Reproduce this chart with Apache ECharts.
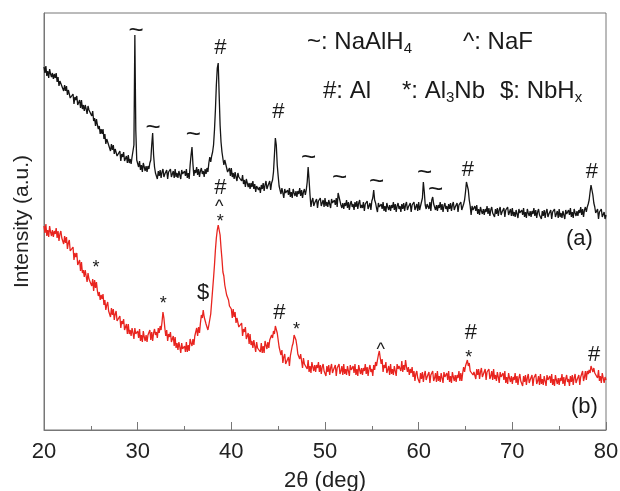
<!DOCTYPE html>
<html>
<head>
<meta charset="utf-8">
<script src="https://cdn.jsdelivr.net/npm/echarts@6.0.0/dist/echarts.min.js"></script>
<style>
html, body { margin: 0; padding: 0; background: #fff; }
#chart { width: 620px; height: 491px; }
</style>
</head>
<body>
<div id="chart"></div>
<script>
// 2theta sampling of the traces: 20.0, 20.1, ... 80.0
const thetaStart = 20
const thetaStep = 0.1

// (a) intensity, arbitrary units, one row per degree
const traceA = [
  363, 357, 364, 354, 359, 352, 361, 356, 353, 357,
  351, 356, 352, 357, 348, 353, 344, 349, 351, 344,
  346, 339, 345, 339, 344, 335, 340, 342, 332, 334,
  331, 336, 326, 333, 330, 334, 325, 326, 330, 322,
  330, 321, 325, 319, 325, 321, 316, 324, 320, 321,
  321, 314, 319, 309, 312, 304, 311, 305, 301, 304,
  296, 301, 296, 301, 291, 296, 286, 291, 292, 285,
  286, 279, 286, 280, 285, 276, 281, 283, 274, 276,
  273, 279, 269, 276, 273, 278, 269, 271, 274, 267,
  275, 267, 271, 266, 273, 272, 285, 395, 300, 270,
  268, 263, 269, 260, 265, 258, 267, 263, 259, 264,
  258, 264, 261, 267, 270, 285, 297, 275, 263, 257,
  257, 251, 259, 254, 260, 252, 258, 261, 253, 256,
  254, 260, 251, 258, 256, 261, 253, 255, 259, 252,
  261, 253, 257, 252, 259, 255, 251, 260, 256, 258,
  259, 254, 261, 252, 257, 251, 265, 275, 283, 266,
  254, 260, 257, 263, 255, 261, 253, 259, 262, 256,
  259, 253, 261, 256, 262, 258, 267, 273, 268, 274,
  278, 285, 300, 320, 345, 362, 367, 335, 305, 288,
  278, 278, 265, 270, 266, 267, 258, 259, 262, 254,
  262, 253, 257, 251, 258, 253, 249, 257, 253, 254,
  255, 249, 255, 246, 250, 243, 251, 247, 243, 247,
  241, 247, 243, 249, 241, 246, 238, 244, 246, 240,
  243, 237, 245, 241, 247, 239, 245, 249, 241, 244,
  243, 249, 240, 247, 250, 258, 275, 292, 285, 265,
  254, 244, 245, 236, 242, 237, 232, 241, 237, 239,
  240, 235, 242, 233, 238, 232, 241, 237, 234, 239,
  233, 239, 236, 242, 234, 240, 232, 238, 241, 235,
  240, 248, 263, 250, 235, 223, 229, 232, 224, 227,
  225, 231, 222, 229, 227, 232, 224, 226, 230, 223,
  232, 224, 228, 223, 230, 226, 222, 231, 227, 229,
  230, 225, 232, 223, 237, 235, 229, 225, 222, 227,
  221, 227, 224, 230, 222, 228, 220, 226, 229, 223,
  226, 220, 228, 223, 229, 221, 227, 230, 222, 225,
  222, 228, 219, 226, 224, 229, 221, 223, 227, 220,
  229, 232, 240, 230, 227, 222, 218, 227, 223, 225,
  226, 221, 228, 219, 224, 218, 227, 223, 220, 225,
  219, 225, 222, 228, 220, 226, 218, 224, 227, 221,
  224, 218, 226, 221, 227, 219, 225, 228, 220, 223,
  221, 227, 218, 225, 223, 228, 220, 222, 226, 219,
  228, 220, 224, 226, 232, 248, 238, 225, 221, 226,
  226, 221, 228, 219, 230, 233, 226, 223, 220, 225,
  219, 225, 222, 228, 220, 226, 218, 224, 227, 221,
  224, 218, 226, 221, 227, 219, 225, 228, 220, 223,
  221, 227, 218, 225, 223, 228, 220, 222, 226, 230,
  238, 248, 250, 240, 230, 224, 215, 224, 220, 222,
  224, 219, 225, 216, 221, 215, 223, 219, 216, 221,
  215, 221, 218, 224, 216, 222, 214, 220, 223, 217,
  219, 213, 221, 216, 222, 214, 220, 223, 215, 218,
  216, 222, 213, 220, 218, 223, 215, 217, 221, 214,
  222, 214, 218, 213, 220, 216, 212, 221, 217, 219,
  220, 215, 222, 213, 218, 212, 221, 217, 214, 219,
  213, 219, 216, 222, 214, 220, 212, 218, 221, 215,
  217, 211, 219, 214, 220, 212, 218, 221, 213, 216,
  214, 220, 211, 218, 216, 221, 213, 215, 219, 212,
  221, 213, 217, 212, 219, 215, 211, 220, 216, 218,
  220, 215, 222, 213, 218, 212, 221, 217, 214, 219,
  214, 220, 217, 223, 215, 221, 213, 220, 223, 218,
  223, 226, 230, 238, 245, 243, 235, 227, 223, 217,
  215, 221, 211, 218, 216, 221, 213, 214, 218, 211,
  215
]

// (b) intensity, arbitrary units, one row per degree
const traceB = [
  204, 197, 206, 194, 200, 193, 204, 198, 194, 200,
  193, 199, 196, 202, 192, 199, 189, 196, 199, 192,
  194, 186, 194, 187, 193, 181, 187, 190, 179, 181,
  178, 183, 170, 177, 173, 177, 165, 166, 170, 159,
  168, 157, 160, 153, 160, 154, 148, 157, 151, 151,
  152, 144, 151, 139, 150, 142, 148, 139, 134, 138,
  130, 135, 131, 136, 125, 130, 120, 125, 128, 119,
  121, 113, 122, 115, 121, 110, 116, 119, 109, 111,
  108, 114, 102, 109, 106, 111, 100, 102, 106, 96,
  106, 96, 100, 94, 102, 97, 91, 102, 96, 98,
  99, 92, 101, 89, 95, 88, 99, 93, 89, 95,
  88, 95, 93, 100, 90, 98, 89, 97, 101, 95,
  98, 92, 102, 97, 104, 100, 108, 118, 112, 102,
  94, 100, 89, 96, 93, 98, 88, 90, 94, 84,
  93, 82, 87, 80, 88, 83, 77, 87, 81, 83,
  84, 78, 88, 78, 85, 79, 91, 87, 84, 91,
  85, 94, 93, 102, 94, 103, 97, 107, 115, 112,
  120, 113, 114, 106, 107, 100, 105, 107, 116, 128,
  140, 152, 165, 180, 192, 200, 205, 204, 195, 182,
  171, 158, 154, 145, 145, 135, 137, 130, 124, 124,
  121, 112, 121, 113, 118, 107, 112, 114, 103, 105,
  101, 107, 94, 101, 98, 103, 91, 93, 97, 86,
  96, 85, 89, 82, 90, 84, 78, 88, 82, 83,
  84, 78, 87, 77, 84, 77, 89, 85, 81, 88,
  82, 90, 89, 95, 92, 99, 96, 104, 103, 97,
  90, 83, 81, 75, 80, 67, 73, 76, 66, 68,
  65, 73, 64, 74, 76, 84, 87, 95, 97, 90,
  84, 76, 78, 71, 76, 69, 62, 72, 66, 67,
  68, 61, 70, 58, 64, 57, 68, 63, 59, 65,
  58, 65, 62, 68, 58, 65, 56, 63, 66, 59,
  61, 54, 64, 58, 65, 55, 62, 66, 57, 60,
  58, 65, 54, 62, 60, 66, 56, 59, 64, 55,
  66, 56, 61, 55, 64, 59, 54, 65, 60, 62,
  64, 57, 66, 55, 61, 54, 65, 60, 56, 62,
  55, 62, 59, 66, 56, 63, 54, 61, 65, 58,
  61, 54, 65, 60, 68, 64, 70, 75, 79, 72,
  66, 71, 58, 65, 62, 68, 57, 60, 64, 55,
  66, 56, 61, 55, 64, 59, 54, 66, 61, 64,
  66, 59, 69, 58, 65, 60, 70, 63, 58, 63,
  55, 61, 57, 63, 53, 59, 49, 56, 59, 52,
  54, 47, 57, 51, 58, 48, 55, 59, 50, 53,
  51, 58, 47, 55, 53, 59, 49, 52, 57, 48,
  59, 49, 54, 48, 57, 52, 47, 58, 53, 55,
  57, 50, 59, 48, 54, 47, 58, 53, 49, 55,
  48, 55, 52, 59, 49, 57, 49, 57, 63, 58,
  64, 65, 70, 64, 67, 59, 61, 61, 55, 58,
  58, 51, 61, 55, 61, 51, 58, 62, 53, 55,
  54, 61, 50, 58, 56, 61, 51, 54, 59, 50,
  61, 51, 55, 49, 58, 53, 47, 58, 53, 55,
  57, 50, 59, 47, 53, 46, 57, 52, 48, 54,
  46, 53, 50, 57, 47, 54, 45, 52, 56, 49,
  51, 44, 54, 48, 55, 45, 52, 56, 47, 50,
  48, 55, 44, 52, 50, 56, 46, 49, 54, 45,
  56, 46, 51, 45, 54, 49, 44, 55, 50, 52,
  54, 47, 56, 45, 51, 44, 55, 50, 46, 52,
  45, 52, 49, 56, 46, 53, 44, 51, 55, 48,
  51, 44, 54, 48, 55, 45, 52, 56, 47, 50,
  48, 55, 45, 53, 52, 59, 49, 53, 59, 50,
  59, 56, 60, 57, 64, 63, 58, 62, 57, 57,
  59, 52, 60, 49, 54, 47, 57, 52, 47, 53,
  50
]

// phase markers: [2theta, intensity, symbol]
const peaksA = [
  [29.84, 399, '~'], [31.66, 302, '~'], [35.94, 295, '~'], [38.82, 382, '#'],
  [45.03, 318, '#'], [48.24, 272, '~'], [51.55, 252, '~'], [55.51, 248, '~'],
  [60.64, 257, '~'], [61.82, 240, '~'], [65.24, 260, '#'], [78.5, 258, '#']
]
const peaksB = [
  [38.82, 242, '#'], [38.72, 223, '^'], [38.82, 208, '*'], [25.56, 162, '*'],
  [32.73, 126, '*'], [37.0, 137, '$'], [45.13, 117, '#'], [46.95, 100, '*'],
  [55.94, 80, '^'], [65.56, 97, '#'], [65.35, 72, '*'], [78.72, 75, '#']
]

const xMin = 20
const xMax = 80
const xInterval = 10

const font = "'Liberation Sans', Arial, sans-serif"
const symbolSize = { '~': 26, '#': 22, '*': 18, '^': 18, '$': 22 }

function toPairs(vals) {
  return vals.map((v, i) => [+(thetaStart + i * thetaStep).toFixed(1), v])
}

function markers(list) {
  return {
    symbol: 'circle',
    symbolSize: 1,
    itemStyle: { color: 'rgba(0,0,0,0)' },
    label: {
      show: true,
      position: 'inside',
      formatter: '{b}',
      color: '#1a1a1a',
      fontFamily: font
    },
    data: list.map(p => ({
      name: p[2],
      coord: [p[0], p[1]],
      label: { fontSize: symbolSize[p[2]] }
    }))
  }
}

const chart = echarts.init(document.getElementById('chart'), null, { renderer: 'canvas' })

const legendRich = {
  s: { fontSize: 15, fontFamily: font, color: '#1a1a1a', padding: [14, 0, 0, 0] }
}

chart.setOption({
  animation: false,
  backgroundColor: '#fff',
  grid: {
    left: 44,
    right: 14,
    top: 13,
    bottom: 61,
    outerBoundsMode: 'none',
    containLabel: false,
    show: true,
    borderColor: '#777',
    borderWidth: 1
  },
  xAxis: {
    type: 'value',
    min: xMin,
    max: xMax,
    interval: xInterval,
    name: '2θ (deg)',
    nameLocation: 'middle',
    nameGap: 40,
    nameTextStyle: { fontSize: 22, fontFamily: font, color: '#222' },
    axisLine: { lineStyle: { color: '#777', width: 1 } },
    axisTick: { inside: true, length: 8, lineStyle: { color: '#777' } },
    minorTick: { show: true, splitNumber: 2, length: 4, lineStyle: { color: '#777' } },
    axisLabel: { fontSize: 22, fontFamily: font, color: '#222', margin: 11 },
    splitLine: { show: false }
  },
  yAxis: {
    type: 'value',
    min: 0,
    max: 417,
    name: 'Intensity (a.u.)',
    nameLocation: 'middle',
    nameGap: 11,
    nameTextStyle: { fontSize: 21, fontFamily: font, color: '#222' },
    axisLine: { show: true, lineStyle: { color: '#777', width: 1 } },
    axisTick: { show: false },
    axisLabel: { show: false },
    splitLine: { show: false }
  },
  series: [
    {
      name: '(a)',
      type: 'line',
      data: toPairs(traceA),
      showSymbol: false,
      sampling: null,
      lineStyle: { color: '#151515', width: 1.3 },
      markPoint: markers(peaksA)
    },
    {
      name: '(b)',
      type: 'line',
      data: toPairs(traceB),
      showSymbol: false,
      lineStyle: { color: '#e8241f', width: 1.3 },
      markPoint: markers(peaksB)
    }
  ],
  graphic: [
    { type: 'text', left: 307, top: 30, style: { text: '~: NaAlH{s|4}', rich: legendRich, fontSize: 24, fontFamily: font, fill: '#1a1a1a' } },
    { type: 'text', left: 463, top: 30, style: { text: '^: NaF', fontSize: 24, fontFamily: font, fill: '#1a1a1a' } },
    { type: 'text', left: 323, top: 79, style: { text: '#: Al', fontSize: 24, fontFamily: font, fill: '#1a1a1a' } },
    { type: 'text', left: 402, top: 79, style: { text: '*: Al{s|3}Nb', rich: legendRich, fontSize: 24, fontFamily: font, fill: '#1a1a1a' } },
    { type: 'text', left: 500, top: 79, style: { text: '$: NbH{s|x}', rich: legendRich, fontSize: 24, fontFamily: font, fill: '#1a1a1a' } },
    { type: 'text', left: 566, top: 228, style: { text: '(a)', fontSize: 22, fontFamily: font, fill: '#1a1a1a' } },
    { type: 'text', left: 571, top: 396, style: { text: '(b)', fontSize: 22, fontFamily: font, fill: '#1a1a1a' } }
  ]
})
</script>
</body>
</html>
